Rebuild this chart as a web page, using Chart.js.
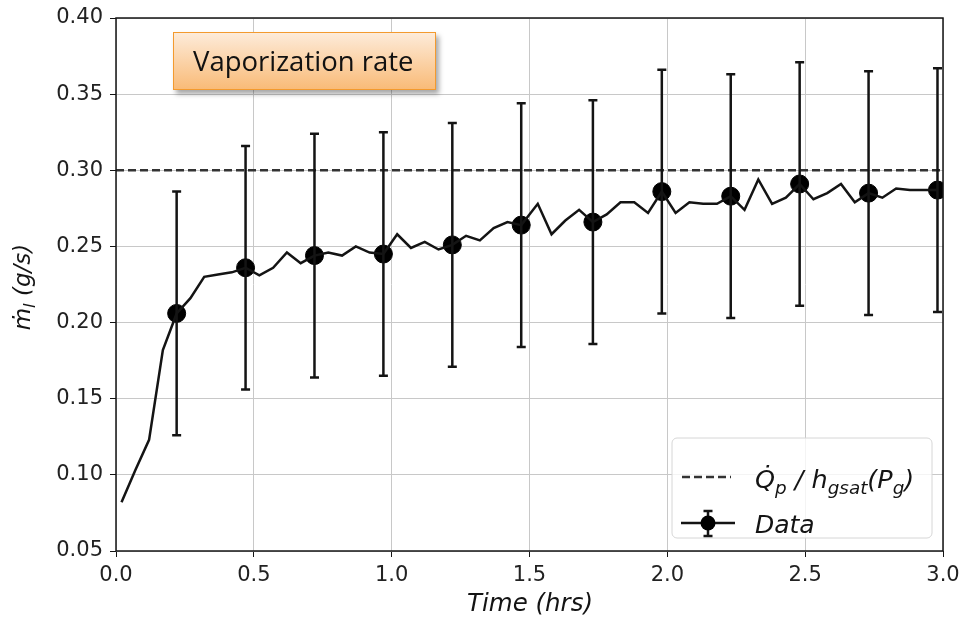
<!DOCTYPE html>
<html>
<head>
<meta charset="utf-8">
<script src="https://cdn.jsdelivr.net/npm/chart.js@4.4.1/dist/chart.umd.min.js"></script>
<style>
  html, body { margin: 0; padding: 0; background: #fff; }
  #wrap { position: relative; width: 960px; height: 618px; }
  canvas { display: block; }
  .tag {
    position: absolute; left: 173px; top: 32px; width: 263px; height: 58px;
    box-sizing: border-box; border: 1.5px solid #f39a2e;
    background: linear-gradient(#fdebd9, #f9bb78);
    box-shadow: 3px 4px 5px rgba(0,0,0,0.35);
    font-family: 'Open Sans', sans-serif; font-size: 27.5px; line-height: 55px;
    padding-left: 19px; color: #111;
  }
</style>
</head>
<body>
<div id="wrap">
  <canvas id="chart" width="960" height="618"></canvas>
  <div class="tag">Vaporization rate</div>
</div>
<script>
// measured vaporization rate (g/s) vs time (hrs)
const times = [0.02, 0.07, 0.12, 0.17, 0.22, 0.27, 0.32, 0.37, 0.42, 0.47,
               0.52, 0.57, 0.62, 0.67, 0.72, 0.77, 0.82, 0.87, 0.92, 0.97,
               1.02, 1.07, 1.12, 1.17, 1.22, 1.27, 1.32, 1.37, 1.42, 1.47,
               1.53, 1.58, 1.63, 1.68, 1.73, 1.78, 1.83, 1.88, 1.93, 1.98,
               2.03, 2.08, 2.13, 2.18, 2.23, 2.28, 2.33, 2.38, 2.43, 2.48,
               2.53, 2.58, 2.63, 2.68, 2.73, 2.78, 2.83, 2.88, 2.93, 2.98];
const rate = [0.082, 0.103, 0.123, 0.182, 0.206, 0.216, 0.230, 0.2315, 0.233, 0.236,
              0.231, 0.236, 0.246, 0.239, 0.244, 0.246, 0.244, 0.250, 0.246, 0.245,
              0.258, 0.249, 0.253, 0.248, 0.251, 0.257, 0.254, 0.262, 0.266, 0.264,
              0.278, 0.258, 0.267, 0.274, 0.266, 0.271, 0.279, 0.279, 0.272, 0.286,
              0.272, 0.279, 0.278, 0.278, 0.283, 0.274, 0.294, 0.278, 0.282, 0.291,
              0.281, 0.285, 0.291, 0.279, 0.285, 0.282, 0.288, 0.287, 0.287, 0.287];

// points with error bars
const dataTimes = [0.22, 0.47, 0.72, 0.97, 1.22, 1.47, 1.73, 1.98, 2.23, 2.48, 2.73, 2.98];
const dataRate  = [0.206, 0.236, 0.244, 0.245, 0.251, 0.264, 0.266, 0.286, 0.283, 0.291, 0.285, 0.287];
const dataErr   = [0.080, 0.080, 0.080, 0.080, 0.080, 0.080, 0.080, 0.080, 0.080, 0.080, 0.080, 0.080];

// Qp / hgsat(Pg) reference level
const refTimes = [0, 3];
const refRate = [0.30, 0.30];

const yTicks = [0.05, 0.10, 0.15, 0.20, 0.25, 0.30, 0.35, 0.40];
const xTicks = [0, 0.5, 1.0, 1.5, 2.0, 2.5, 3.0];

const INK = '#141414';
const MATH = "'DejaVu Sans', sans-serif";

// draws text pieces, some of them as subscripts
function drawPieces(ctx, pieces, x, y, size) {
  let cx = x;
  pieces.forEach(p => {
    const s = p.sub ? size * 0.72 : size;
    ctx.font = `oblique ${s}px ${MATH}`;
    ctx.fillText(p.t, cx, y + (p.sub ? size * 0.22 : 0));
    cx += ctx.measureText(p.t).width;
  });
  return cx - x;
}
function measurePieces(ctx, pieces, size) {
  let w = 0;
  pieces.forEach(p => {
    ctx.font = `oblique ${p.sub ? size * 0.72 : size}px ${MATH}`;
    w += ctx.measureText(p.t).width;
  });
  return w;
}

const overlay = {
  id: 'overlay',
  afterDatasetsDraw(chart) {
    const { ctx, chartArea: a, scales: { x, y } } = chart;
    ctx.save();
    ctx.beginPath();
    ctx.rect(a.left, a.top, a.right - a.left, a.bottom - a.top);
    ctx.clip();
    ctx.strokeStyle = INK;
    ctx.lineWidth = 2.5;
    dataTimes.forEach((t, i) => {
      const px = x.getPixelForValue(t);
      const top = y.getPixelForValue(dataRate[i] + dataErr[i]);
      const bot = y.getPixelForValue(dataRate[i] - dataErr[i]);
      ctx.beginPath();
      ctx.moveTo(px, top); ctx.lineTo(px, bot);
      ctx.moveTo(px - 4.5, top); ctx.lineTo(px + 4.5, top);
      ctx.moveTo(px - 4.5, bot); ctx.lineTo(px + 4.5, bot);
      ctx.stroke();
    });
    ctx.restore();
  },
  afterDraw(chart) {
    const { ctx, chartArea: a } = chart;
    ctx.save();
    // full box around the plot
    ctx.strokeStyle = INK;
    ctx.lineWidth = 1.5;
    ctx.strokeRect(a.left, a.top, a.right - a.left, a.bottom - a.top);

    // legend
    const lx = 672, ly = 438, lw = 260, lh = 100;
    ctx.beginPath();
    ctx.roundRect(lx, ly, lw, lh, 5);
    ctx.fillStyle = 'rgba(255,255,255,0.8)';
    ctx.fill();
    ctx.strokeStyle = '#d6d6d6';
    ctx.lineWidth = 1;
    ctx.stroke();

    ctx.strokeStyle = '#333';
    ctx.lineWidth = 2.5;
    ctx.setLineDash([8, 4]);
    ctx.beginPath(); ctx.moveTo(682, 477); ctx.lineTo(731, 477); ctx.stroke();
    ctx.setLineDash([]);

    ctx.strokeStyle = INK;
    ctx.lineWidth = 2.5;
    ctx.beginPath(); ctx.moveTo(681, 523); ctx.lineTo(735, 523); ctx.stroke();
    ctx.beginPath();
    ctx.moveTo(708, 511); ctx.lineTo(708, 536);
    ctx.moveTo(703.5, 511); ctx.lineTo(712.5, 511);
    ctx.moveTo(703.5, 536); ctx.lineTo(712.5, 536);
    ctx.stroke();
    ctx.fillStyle = '#000';
    ctx.beginPath(); ctx.arc(708, 523, 7.5, 0, Math.PI * 2); ctx.fill();

    ctx.fillStyle = INK;
    ctx.textBaseline = 'alphabetic';
    ctx.textAlign = 'left';
    drawPieces(ctx, [{ t: 'Q\u0307' }, { t: 'p', sub: true }, { t: ' / h' }, { t: 'gsat', sub: true },
                     { t: '(P' }, { t: 'g', sub: true }, { t: ')' }], 755, 488, 25.5);
    drawPieces(ctx, [{ t: 'Data' }], 755, 533, 25);

    // axis titles
    const xt = [{ t: 'Time (hrs)' }];
    drawPieces(ctx, xt, 530 - measurePieces(ctx, xt, 24.5) / 2, 611, 24.5);

    const yt = [{ t: '\u1E41' }, { t: 'l', sub: true }, { t: ' (g/s)' }];
    ctx.translate(30, 287);
    ctx.rotate(-Math.PI / 2);
    drawPieces(ctx, yt, -measurePieces(ctx, yt, 23) / 2, 0, 23);
    ctx.restore();
  }
};

new Chart(document.getElementById('chart'), {
  type: 'line',
  data: {
    datasets: [
      {
        label: 'ref',
        data: refTimes.map((t, i) => ({ x: t, y: refRate[i] })),
        borderColor: '#333', borderWidth: 2.5, borderDash: [8, 4],
        pointRadius: 0, clip: 0
      },
      {
        label: 'rate',
        data: times.map((t, i) => ({ x: t, y: rate[i] })),
        borderColor: INK, borderWidth: 2.5, pointRadius: 0, tension: 0
      },
      {
        label: 'Data',
        data: dataTimes.map((t, i) => ({ x: t, y: dataRate[i] })),
        showLine: false, pointRadius: 9, pointHoverRadius: 9,
        pointBackgroundColor: '#000', pointBorderColor: '#000', clip: 0
      }
    ]
  },
  options: {
    responsive: false,
    animation: false,
    events: [],
    layout: { padding: { top: 18, right: 17, left: 0, bottom: 0 } },
    plugins: { legend: { display: false }, tooltip: { enabled: false } },
    scales: {
      x: {
        type: 'linear', min: 0, max: 3,
        afterBuildTicks: s => { s.ticks = xTicks.map(v => ({ value: v })); },
        afterFit: s => { s.height = 67; s.paddingLeft = 0; s.paddingRight = 0; },
        grid: { color: '#c8c8c8', lineWidth: 1, tickColor: INK, tickLength: 6 },
        border: { display: false },
        ticks: {
          color: '#222', padding: 6,
          font: { family: 'DejaVu Sans', size: 21 },
          callback: v => v.toFixed(1)
        }
      },
      y: {
        type: 'linear', min: 0.05, max: 0.40,
        afterBuildTicks: s => { s.ticks = yTicks.map(v => ({ value: v })); },
        afterFit: s => { s.width = 116; s.paddingTop = 0; s.paddingBottom = 0; },
        grid: { color: '#c8c8c8', lineWidth: 1, tickColor: INK, tickLength: 6 },
        border: { display: false },
        ticks: {
          color: '#222', padding: 7,
          font: { family: 'DejaVu Sans', size: 21 },
          callback: v => v.toFixed(2)
        }
      }
    }
  },
  plugins: [overlay]
});
</script>
</body>
</html>
